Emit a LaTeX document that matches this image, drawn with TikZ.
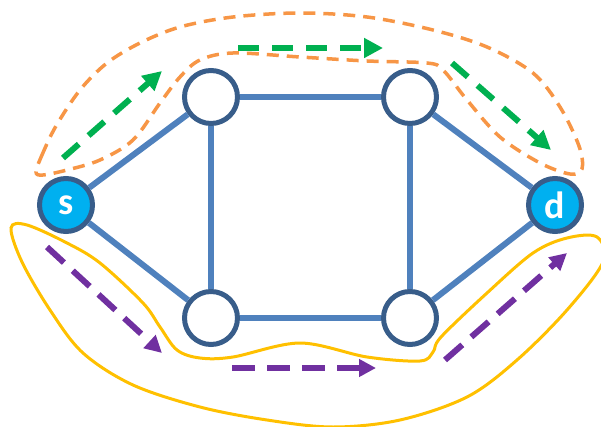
\documentclass[tikz,border=0pt]{standalone}
\usepackage{fontspec}
\setsansfont{Carlito}
\usetikzlibrary{arrows.meta,positioning}
\definecolor{edgeblue}{HTML}{4F81BD}
\definecolor{rimblue}{HTML}{385D8A}
\definecolor{endcyan}{HTML}{00B0F0}
\definecolor{pathgreen}{HTML}{00B050}
\definecolor{pathpurple}{HTML}{7030A0}
\definecolor{hullorange}{HTML}{F79646}
\definecolor{hullyellow}{HTML}{FFC000}

\begin{document}
\begin{tikzpicture}[x=1pt,y=-1pt,on grid,
		vertex/.style={circle,draw=rimblue,line width=5pt,fill=white,minimum size=53pt,inner sep=0pt},
		terminal/.style={vertex,fill=endcyan,text=white,font=\sffamily\bfseries\fontsize{38}{38}\selectfont},
		link/.style={draw=edgeblue,line width=6pt},
		greenpath/.style={pathgreen,line width=6pt,dash pattern=on 21pt off 13pt,-{Triangle[length=19pt,width=19pt]}},
		purplepath/.style={pathpurple,line width=6pt,dash pattern=on 23pt off 12pt,-{Triangle[length=17pt,width=17pt]}},
		orangehull/.style={hullorange,line width=3.5pt,dash pattern=on 12pt off 8pt},
		yellowhull/.style={hullyellow,line width=3pt}]
		\useasboundingbox (0,0) rectangle (601,427);

		% hulls round the two routes
		\draw[orangehull] plot[smooth cycle,tension=0.55] coordinates {
			(36,172) (42,155) (56,126) (80,90) (107,63) (140,43) (180,27) (233,17) (300,13)
			(367,17) (433,30) (487,47) (533,73) (560,107) (579,146) (582,169) (570,174)
			(540,163) (500,137) (467,100) (443,70) (427,63) (367,61) (300,57) (233,53)
			(200,60) (180,77) (160,103) (133,140) (100,160) (67,170) (43,175)};
		\draw[yellowhull] plot[smooth cycle,tension=0.55] coordinates {
			(11,228) (27,225) (67,243) (100,263) (143,303) (160,327) (177,350) (200,358)
			(233,357) (300,343) (367,357) (420,361) (433,352) (441,337) (487,293) (533,253)
			(567,238) (597,237) (603,262) (567,310) (517,360) (467,397) (400,420) (333,427)
			(267,420) (200,407) (133,385) (83,353) (50,310) (22,262)};

		% network
		\node[terminal] (s)  at (66,205)                        {s};
		\node[vertex]   (tl) [above right=108pt and 145pt of s] {};
		\node[vertex]   (tr) [right=199pt of tl]                {};
		\node[vertex]   (bl) [below=221pt of tl]                {};
		\node[vertex]   (br) [right=199pt of bl]                {};
		\node[terminal] (d)  [below right=108pt and 145pt of tr] {d};

		\path[link]
		(s) edge (tl)
		(s) edge (bl)
		(tl) edge (tr)
		(tl) edge (bl)
		(tr) edge (br)
		(bl) edge (br)
		(tr) edge (d)
		(br) edge (d);

		% routes
		\draw[greenpath] (63,158) -- (162,71);
		\draw[greenpath] (238,48) -- (383,48);
		\draw[greenpath] (452,63) -- (551,150);
		\draw[purplepath] (47,247) -- (162,353);
		\draw[purplepath] (232,368) -- (376,368);
		\draw[purplepath] (445,360) -- (567,253);
\end{tikzpicture}
\end{document}
